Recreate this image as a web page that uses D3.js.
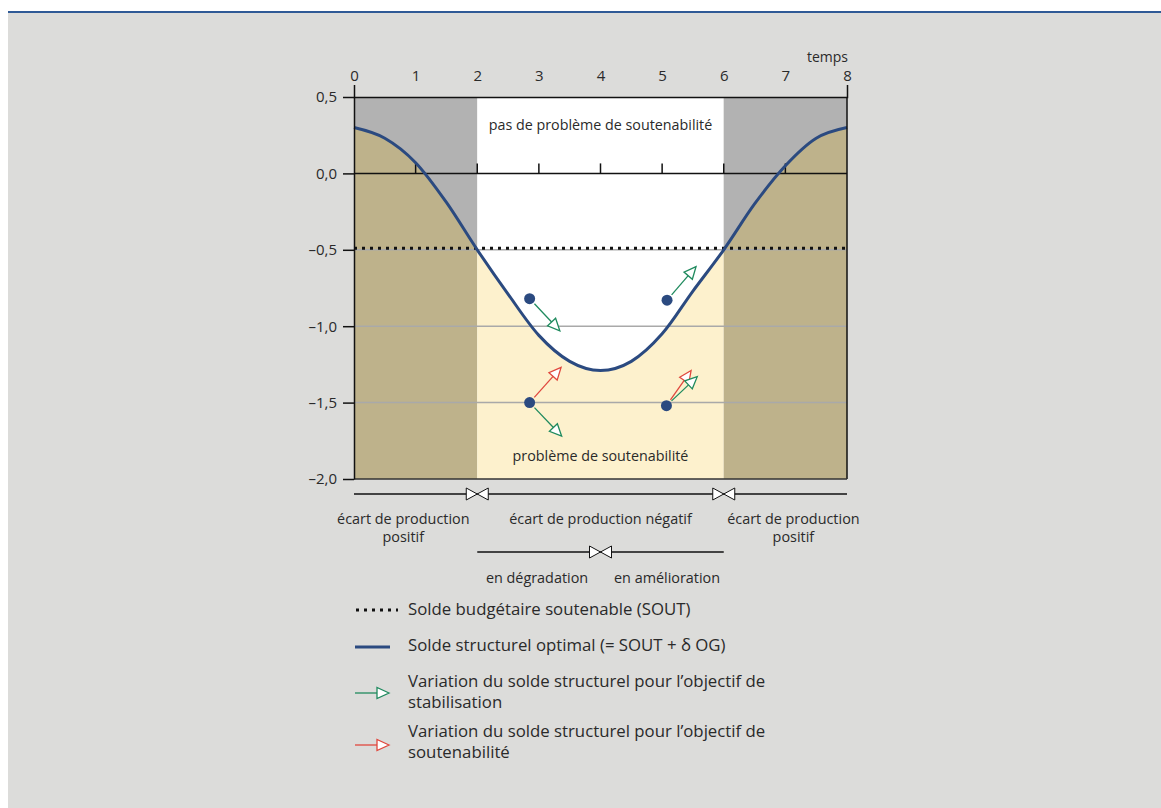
<!DOCTYPE html>
<html><head><meta charset="utf-8">
<script src="https://cdn.jsdelivr.net/npm/d3@7"></script>
<style>
body{margin:0;background:#fff;}
text{font-family:"Open Sans",sans-serif;fill:#2a2a2a;}
</style>
</head><body>
<svg id="c" width="1161" height="808"></svg>
<script>
// ---- data ----
const timeTicks = [0,1,2,3,4,5,6,7,8];
const yTicks = [0.5,0,-0.5,-1,-1.5,-2];
const yTickLabels = ["0,5","0,0","–0,5","–1,0","–1,5","–2,0"];
const curveX = [0,0.5,1,1.5,2,2.5,3,3.5,4,4.5,5,5.5,6,6.5,7,7.5,8];
const curveY = [0.30,0.23,0.07,-0.19,-0.50,-0.79,-1.06,-1.23,-1.29,-1.23,-1.05,-0.77,-0.50,-0.20,0.05,0.23,0.30];
const soutLevel = -0.49;
const gridLevels = [-0.5,-1,-1.5];
const zoneStarts = [0,2,6];
const zoneEnds = [2,6,8];
const zoneTypes = ["pos","neg","pos"];
const dotX = [2.85,5.08,2.85,5.07];
const dotY = [-0.82,-0.83,-1.50,-1.52];
const arrowFrom = [0,1,2,2,3,3];
const arrowToX = [3.34,5.55,3.36,3.37,5.47,5.57];
const arrowToY = [-1.03,-0.61,-1.27,-1.72,-1.29,-1.33];
const arrowKind = ["stab","stab","sout","stab","sout","stab"];
const gapLabels = [["écart de production","positif"],["écart de production négatif"],["écart de production","positif"]];
const gapLabelX = [0.8,4,7.13];
const phaseLabels = ["en dégradation","en amélioration"];
const phaseLabelX = [2.97,5.08];
const legendLabels = [["Solde budgétaire soutenable (SOUT)"],["Solde structurel optimal (= SOUT + δ OG)"],["Variation du solde structurel pour l’objectif de","stabilisation"],["Variation du solde structurel pour l’objectif de","soutenabilité"]];

// ---- styles ----
const C = {bg:"#dcdcda", grey:"#b2b2b2", tan:"#beb28b", yellow:"#fdf1cd", blue:"#2b4a80", green:"#1f8a5e", red:"#e0483e", grid:"#a9a9a9"};

const svg = d3.select("#c");
svg.append("rect").attr("x",8).attr("y",13).attr("width",1153).attr("height",795).attr("fill",C.bg);
svg.append("rect").attr("x",8).attr("y",11).attr("width",1153).attr("height",2).attr("fill","#2f5a96");

const x = d3.scaleLinear([0,8],[354,847]);
const y = d3.scaleLinear([0.5,-2],[97,479]);
const pts = curveX.map((v,i)=>({x:v,y:curveY[i]}));

// zone backgrounds (above curve)
zoneStarts.forEach((s,i)=>{
  svg.append("rect").attr("x",x(s)).attr("y",y(0.5)).attr("width",x(zoneEnds[i])-x(s)).attr("height",y(-2)-y(0.5))
    .attr("fill",zoneTypes[i]==="pos"?C.grey:"#ffffff");
});
// zone fills below curve
const area = d3.area().x(d=>x(d.x)).y0(y(-2)).y1(d=>y(d.y)).curve(d3.curveMonotoneX);
zoneStarts.forEach((s,i)=>{
  const sub = pts.filter(p=>p.x>=s && p.x<=zoneEnds[i]);
  svg.append("path").datum(sub).attr("d",area).attr("fill",zoneTypes[i]==="pos"?C.tan:C.yellow);
});

// grid lines
gridLevels.forEach(g=>{
  svg.append("line").attr("x1",x(0)).attr("x2",x(8)).attr("y1",y(g)).attr("y2",y(g)).attr("stroke",C.grid).attr("stroke-width",1.5);
});
// zero line with upward ticks
svg.append("line").attr("x1",x(0)).attr("x2",x(8)).attr("y1",y(0)).attr("y2",y(0)).attr("stroke","#111").attr("stroke-width",1.5);
timeTicks.filter(t=>t>0&&t<8).forEach(t=>{
  svg.append("line").attr("x1",x(t)).attr("x2",x(t)).attr("y1",y(0)).attr("y2",y(0)-10).attr("stroke","#111").attr("stroke-width",1.5);
});
// sustainable balance dotted line
svg.append("line").attr("x1",x(0)).attr("x2",x(8)).attr("y1",y(soutLevel)).attr("y2",y(soutLevel))
  .attr("stroke","#111").attr("stroke-width",3).attr("stroke-dasharray","3,5");

// optimal structural balance curve
svg.append("path").datum(pts).attr("d",d3.line().x(d=>x(d.x)).y(d=>y(d.y)).curve(d3.curveMonotoneX))
  .attr("fill","none").attr("stroke",C.blue).attr("stroke-width",3);

// zone texts
svg.append("text").attr("x",x(4)).attr("y",y(0.285)).attr("text-anchor","middle").attr("font-size",14.3).text("pas de problème de soutenabilité");
svg.append("text").attr("x",x(4)).attr("y",y(-1.885)).attr("text-anchor","middle").attr("font-size",14.3).text("problème de soutenabilité");

// arrows
function arrow(g,x1,y1,x2,y2,col,off){
  const a = Math.atan2(y2-y1,x2-x1), L=12, W=5.5;
  const sx = x1+off*Math.cos(a), sy = y1+off*Math.sin(a);
  const bx = x2-L*Math.cos(a), by = y2-L*Math.sin(a);
  g.append("line").attr("x1",sx).attr("y1",sy).attr("x2",bx).attr("y2",by).attr("stroke",col).attr("stroke-width",1.3);
  const p = [[x2,y2],[bx+W*Math.sin(a),by-W*Math.cos(a)],[bx-W*Math.sin(a),by+W*Math.cos(a)]];
  g.append("polygon").attr("points",p.map(q=>q.join(",")).join(" ")).attr("fill","#fff").attr("stroke",col).attr("stroke-width",1.3);
}
arrowFrom.forEach((d,i)=>{
  arrow(svg,x(dotX[d]),y(dotY[d]),x(arrowToX[i]),y(arrowToY[i]),arrowKind[i]==="stab"?C.green:C.red,7);
});
dotX.forEach((d,i)=>{
  svg.append("circle").attr("cx",x(d)).attr("cy",y(dotY[i])).attr("r",5.5).attr("fill",C.blue);
});

// frame lines
svg.append("line").attr("x1",x(8)).attr("x2",x(8)).attr("y1",y(0.5)).attr("y2",y(-2)).attr("stroke","#111").attr("stroke-width",1.5);
svg.append("line").attr("x1",x(0)).attr("x2",x(8)).attr("y1",y(-2)).attr("y2",y(-2)).attr("stroke","#333").attr("stroke-width",1.5);

// axes
const topAxis = svg.append("g").attr("transform",`translate(0,${y(0.5)})`)
  .call(d3.axisTop(x).tickValues(timeTicks).tickSizeInner(0).tickSizeOuter(12).tickPadding(16).tickFormat(d3.format("d")));
topAxis.selectAll("text").attr("font-size",15).attr("font-family","Open Sans").attr("fill","#2a2a2a");
topAxis.select(".domain").attr("stroke","#111").attr("stroke-width",1.5);
const leftAxis = svg.append("g").attr("transform",`translate(${x(0)},0)`)
  .call(d3.axisLeft(y).tickValues(yTicks).tickSize(11).tickSizeOuter(0).tickPadding(6).tickFormat((d,i)=>yTickLabels[i]));
leftAxis.selectAll("text").attr("font-size",15).attr("font-family","Open Sans").attr("fill","#2a2a2a");
leftAxis.selectAll("line").attr("stroke","#111").attr("stroke-width",1.5);
leftAxis.select(".domain").attr("stroke","#111").attr("stroke-width",1.5);
svg.append("text").attr("x",x(8)+1).attr("y",62).attr("text-anchor","end").attr("font-size",14).text("temps");

// bottom annotations
function bowtie(cx,cy){
  svg.append("polygon").attr("points",`${cx-11},${cy-6} ${cx-11},${cy+6} ${cx},${cy}`).attr("fill","#fff").attr("stroke","#111").attr("stroke-width",1);
  svg.append("polygon").attr("points",`${cx+11},${cy-6} ${cx+11},${cy+6} ${cx},${cy}`).attr("fill","#fff").attr("stroke","#111").attr("stroke-width",1);
}
const r1 = 494, r2 = 552;
svg.append("line").attr("x1",x(0)).attr("x2",x(8)).attr("y1",r1).attr("y2",r1).attr("stroke","#111").attr("stroke-width",1.3);
bowtie(x(2),r1); bowtie(x(6),r1);
gapLabels.forEach((lines,i)=>{
  lines.forEach((t,j)=>svg.append("text").attr("x",x(gapLabelX[i])).attr("y",524+j*18).attr("text-anchor","middle").attr("font-size",14.4).text(t));
});
svg.append("line").attr("x1",x(2)).attr("x2",x(6)).attr("y1",r2).attr("y2",r2).attr("stroke","#111").attr("stroke-width",1.3);
bowtie(x(4),r2);
phaseLabels.forEach((t,i)=>svg.append("text").attr("x",x(phaseLabelX[i])).attr("y",583).attr("text-anchor","middle").attr("font-size",14.4).text(t));

// legend
const legY = [615,651,687,737];
legendLabels.forEach((lines,i)=>{
  lines.forEach((t,j)=>svg.append("text").attr("x",408).attr("y",legY[i]+j*21).attr("font-size",16.8).text(t));
});
svg.append("line").attr("x1",356).attr("x2",398).attr("y1",610).attr("y2",610).attr("stroke","#111").attr("stroke-width",3).attr("stroke-dasharray","3,5");
svg.append("line").attr("x1",355).attr("x2",390).attr("y1",647).attr("y2",647).attr("stroke",C.blue).attr("stroke-width",3);
arrow(svg,355,693,389,693,C.green,0);
arrow(svg,355,745,389,745,C.red,0);
</script>
</body></html>
